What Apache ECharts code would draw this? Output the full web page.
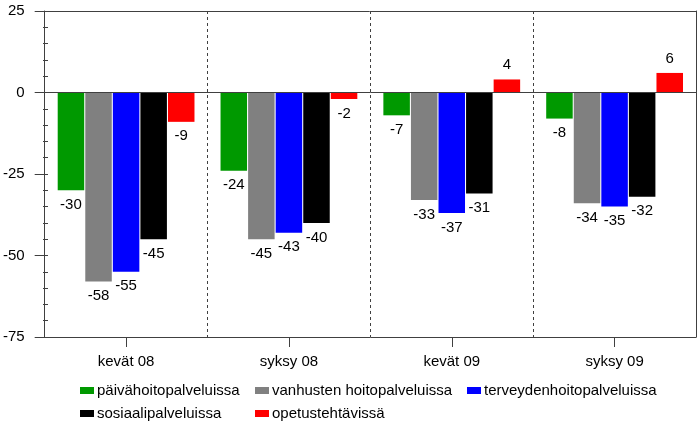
<!DOCTYPE html>
<html>
<head>
<meta charset="utf-8">
<script src="https://cdn.jsdelivr.net/npm/echarts@6/dist/echarts.min.js"></script>
<style>html,body{margin:0;padding:0;background:#fff}#c{width:697px;height:426px}</style>
</head>
<body>
<div id="c"></div>
<script>
const categories = ['kevät 08', 'syksy 08', 'kevät 09', 'syksy 09'];
const seriesNames = ['päivähoitopalveluissa', 'vanhusten hoitopalveluissa', 'terveydenhoitopalveluissa', 'sosiaalipalveluissa', 'opetustehtävissä'];
const paivahoito = [-30, -24, -7, -8];
const vanhusten = [-58, -45, -33, -34];
const terveyden = [-55, -43, -37, -35];
const sosiaali = [-45, -40, -31, -32];
const opetus = [-9, -2, 4, 6];
const yTicks = [-75, -50, -25, 0, 25];
const colors = ['#009900', '#808080', '#0000ff', '#000000', '#ff0000'];

const FONT = 'Liberation Sans';
const AX = '#404040';
const allData = [paivahoito, vanhusten, terveyden, sosiaali, opetus];
const yMin = yTicks[0], yMax = yTicks[yTicks.length - 1];

const series = allData.map((arr, i) => ({
  name: seriesNames[i],
  type: 'bar',
  xAxisIndex: 0, yAxisIndex: 0,
  barGap: '4%',
  barCategoryGap: '16%',
  itemStyle: { color: colors[i] },
  label: { show: true, color: '#000', fontSize: 15, fontFamily: FONT, distance: 7 },
  data: arr.map(v => ({ value: v, label: { position: v < 0 ? 'bottom' : 'top' } })),
  markLine: i === 0 ? {
    silent: true, symbol: 'none', label: { show: false },
    lineStyle: { color: AX, width: 1, type: 'solid' },
    data: [{ yAxis: 0 }]
  } : undefined
}));

const legendPos = [[80, 383], [255, 383], [467, 383], [80, 406], [255, 406]];
const legends = seriesNames.map((n, i) => ({
  data: [n], left: legendPos[i][0], top: legendPos[i][1], padding: 0,
  itemWidth: 14, itemHeight: 7, itemGap: 0, icon: 'rect',
  selectedMode: false,
  textStyle: { fontSize: 15, fontFamily: FONT, color: '#000', padding: [0, 0, 0, -2] }
}));

const chart = echarts.init(document.getElementById('c'), null, { renderer: 'canvas' });
chart.setOption({
  animation: false,
  textStyle: { fontFamily: FONT },
  legend: legends,
  grid: [
    { left: 43, right: 1, top: 11, bottom: 89, show: false },
    { left: 43, right: 1, top: 11, bottom: 89, show: false }
  ],
  xAxis: [{
    type: 'category', data: categories, gridIndex: 0,
    axisLine: { onZero: false, lineStyle: { color: AX, width: 1 } },
    axisTick: { show: true, alignWithLabel: true, length: 10, lineStyle: { color: AX } },
    axisLabel: { fontSize: 15, fontFamily: FONT, color: '#000', margin: 17 },
    splitLine: { show: true, lineStyle: { color: AX, width: 1, type: [3, 3] } }
  }, {
    type: 'category', data: categories, gridIndex: 1, position: 'top', z: 5,
    axisLine: { show: true, onZero: false, lineStyle: { color: AX, width: 1 } },
    axisTick: { show: false }, axisLabel: { show: false }, splitLine: { show: false }
  }],
  yAxis: [{
    type: 'value', gridIndex: 0, position: 'left', min: yMin, max: yMax, interval: 25,
    axisLine: { show: true, onZero: false, lineStyle: { color: AX, width: 1 } },
    axisTick: { show: true, length: 10, lineStyle: { color: AX } },
    axisLabel: { fontSize: 15, fontFamily: FONT, color: '#000', margin: 20 },
    splitLine: { show: false }
  }, {
    type: 'value', gridIndex: 1, position: 'left', min: yMin, max: yMax, interval: 5,
    axisLine: { show: false, onZero: false },
    axisTick: { show: true, inside: true, length: 5, lineStyle: { color: AX } },
    axisLabel: { show: false },
    splitLine: { show: false }
  }, {
    type: 'value', gridIndex: 1, position: 'right', min: yMin, max: yMax, interval: 25, z: 5,
    axisLine: { show: true, onZero: false, lineStyle: { color: AX, width: 1 } },
    axisTick: { show: false }, axisLabel: { show: false }, splitLine: { show: false }
  }],
  series: series
});
</script>
</body>
</html>
